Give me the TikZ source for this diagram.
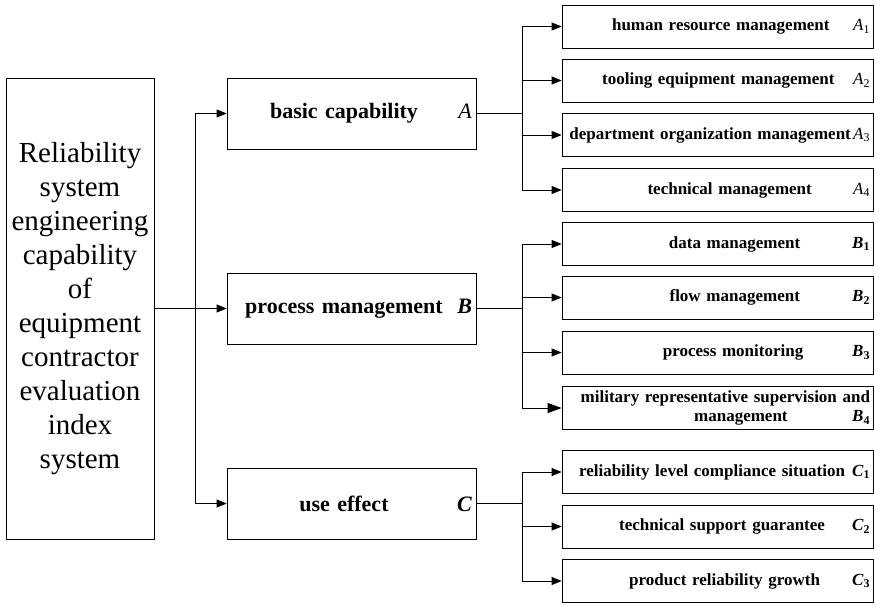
\documentclass[tikz,border=0pt]{standalone}
\usepackage{fontspec}
\setmainfont{Liberation Serif}
\usetikzlibrary{arrows.meta}

\tikzset{
  rootbox/.style={draw, line width=0.8pt, minimum width=148pt, minimum height=461pt,
    align=center, font=\fontsize{29}{34}\selectfont},
  midbox/.style={draw, line width=0.8pt, minimum height=71pt, text width=241pt,
    inner xsep=4pt, font=\fontsize{22}{26}\selectfont\bfseries},
  leafbox/.style={draw, line width=0.8pt, minimum height=43pt, text width=305pt,
    inner xsep=3pt, font=\fontsize{17}{19}\selectfont\bfseries},
  link/.style={line width=0.8pt, -{Triangle[length=10pt,width=8pt]}},
  biglink/.style={line width=0.8pt, -{Triangle[length=14pt,width=10pt]}},
}
\newcommand{\leaftext}[2]{\hspace*{\stretch{2}}#1\hspace*{\stretch{1}}#2}
\newcommand{\idxmark}[2]{\textit{#1}\textsubscript{#2}}

\begin{document}
\begin{tikzpicture}[x=1pt, y=-1pt]
  \useasboundingbox (0,0) rectangle (874,605);
  % root
  \node[rootbox] (root) at (80,308.5) {Reliability\\system\\engineering\\capability\\of\\equipment\\contractor\\evaluation\\index\\system};
  % second level
  \node[midbox] (A) at (351.5,113.5) {\makebox[226pt]{basic capability}\hfill{\mdseries\textit{A}}};
  \node[midbox] (B) at (351.5,308.5) {\makebox[226pt]{process management}\hfill\textit{B}};
  \node[midbox] (C) at (351.5,503.5) {\makebox[226pt]{use effect}\hfill\textit{C}};
  % third level
  \node[leafbox] (A1) at (717.5,26.5) {\leaftext{human resource management}{\mdseries\idxmark{A}{1}}};
  \node[leafbox] (A2) at (717.5,80.5) {\leaftext{tooling equipment management}{\mdseries\idxmark{A}{2}}};
  \node[leafbox] (A3) at (717.5,135) {\leaftext{department organization management}{\mdseries\idxmark{A}{3}}};
  \node[leafbox] (A4) at (717.5,190) {\leaftext{technical management}{\mdseries\idxmark{A}{4}}};
  \node[leafbox] (B1) at (717.5,244) {\leaftext{data management}{\idxmark{B}{1}}};
  \node[leafbox] (B2) at (717.5,297.5) {\leaftext{flow management}{\idxmark{B}{2}}};
  \node[leafbox] (B3) at (717.5,352.5) {\leaftext{process monitoring}{\idxmark{B}{3}}};
  \node[leafbox] (B4) at (717.5,408) {\leaftext{military representative supervision and}{}\\
    \leaftext{management}{\idxmark{B}{4}}};
  \node[leafbox] (C1) at (717.5,472) {\leaftext{reliability level compliance situation}{\idxmark{C}{1}}};
  \node[leafbox] (C2) at (717.5,526.5) {\leaftext{technical support guarantee}{\idxmark{C}{2}}};
  \node[leafbox] (C3) at (717.5,581) {\leaftext{product reliability growth}{\idxmark{C}{3}}};
  % connectors
  \draw[link] (root) -- (B);
  \draw[link] (root.east) -- ++(41,0) |- (A);
  \draw[link] (root.east) -- ++(41,0) |- (C);
  \draw[link] (A.east) -- ++(46,0) |- (A1);
  \draw[link] (A.east) -- ++(46,0) |- (A2);
  \draw[link] (A.east) -- ++(46,0) |- (A3);
  \draw[link] (A.east) -- ++(46,0) |- (A4);
  \draw[link] (B.east) -- ++(46,0) |- (B1);
  \draw[link] (B.east) -- ++(46,0) |- (B2);
  \draw[link] (B.east) -- ++(46,0) |- (B3);
  \draw[biglink] (B.east) -- ++(46,0) |- (B4);
  \draw[link] (C.east) -- ++(46,0) |- (C1);
  \draw[link] (C.east) -- ++(46,0) |- (C2);
  \draw[link] (C.east) -- ++(46,0) |- (C3);
\end{tikzpicture}
\end{document}
